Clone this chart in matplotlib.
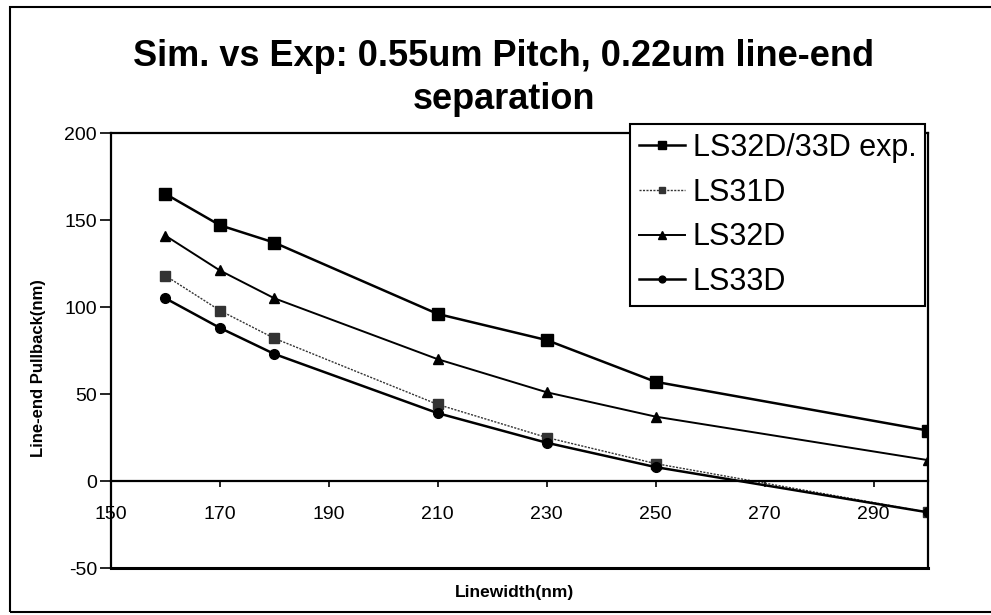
import matplotlib
matplotlib.use("Agg")
import matplotlib.pyplot as plt
from matplotlib.patches import Rectangle

plt.rcParams['font.family'] = ['Liberation Sans', 'DejaVu Sans']
plt.rcParams['axes.unicode_minus'] = False

# linewidth (nm) and line-end pullback (nm) for each run
linewidth = [160, 170, 180, 210, 230, 250, 300]
ls32d_33d_exp = [165, 147, 137, 96, 81, 57, 29]
ls31d = [118, 98, 82, 44, 25, 10, -18]
ls32d = [141, 121, 105, 70, 51, 37, 12]
ls33d = [105, 88, 73, 39, 22, 8, -18]

x_ticks = [150, 170, 190, 210, 230, 250, 270, 290]
y_ticks = [-50, 0, 50, 100, 150, 200]

fig = plt.figure(figsize=(9.91, 6.15), dpi=100)
ax = fig.add_axes([0.112, 0.0764, 0.8244, 0.7073])

ax.plot(linewidth, ls32d_33d_exp, color='black', lw=1.8, marker='s', ms=8,
        label='LS32D/33D exp.')
ax.plot(linewidth, ls31d, color='#333333', lw=1.0, ls=(0, (1.5, 1)), marker='s', ms=7,
        label='LS31D')
ax.plot(linewidth, ls32d, color='black', lw=1.4, marker='^', ms=7.5,
        label='LS32D')
ax.plot(linewidth, ls33d, color='black', lw=1.8, marker='o', ms=7,
        label='LS33D')

ax.set_xlim(150, 300)
ax.set_ylim(-50, 200)
ax.set_xticks(x_ticks)
ax.set_yticks(y_ticks)

# x axis crosses at zero, plot-area frame kept all round
ax.spines['bottom'].set_position(('data', 0))
for side in ['left', 'top', 'right', 'bottom']:
    ax.spines[side].set_linewidth(1.6)
ax.axhline(-50, color='black', lw=2.2, clip_on=False)

ax.tick_params(axis='x', direction='out', length=4, width=1.2, pad=14, labelsize=14)
ax.tick_params(axis='y', direction='out', length=8, width=1.2, pad=2, labelsize=14)

fig.text(0.5086, 1 - 78 / 615, 'Sim. vs Exp: 0.55um Pitch, 0.22um line-end\nseparation',
         ha='center', va='center', fontsize=26, fontweight='bold', linespacing=1.3)
fig.text(0.039, 1 - 368 / 615, 'Line-end Pullback(nm)', rotation=90,
         ha='center', va='center', fontsize=12, fontweight='bold')
fig.text(0.5196, 1 - 592 / 615, 'Linewidth(nm)', ha='center', va='center',
         fontsize=12.5, fontweight='bold')

leg = ax.legend(loc='upper left', bbox_to_anchor=(630 / 991, 1 - 124 / 615),
                bbox_transform=fig.transFigure, fontsize=22, frameon=True,
                fancybox=False, edgecolor='black', framealpha=1,
                handlelength=1.5, handletextpad=0.25, borderpad=0.3,
                borderaxespad=0, labelspacing=0.48, markerscale=0.7)
leg.get_frame().set_linewidth(1.5)

# outer chart border
fig.patches.append(Rectangle((10 / 991, 3 / 615), 985 / 991, 605 / 615,
                             transform=fig.transFigure, fill=False,
                             edgecolor='black', lw=1.5))

fig.savefig('out.png', dpi=100)
